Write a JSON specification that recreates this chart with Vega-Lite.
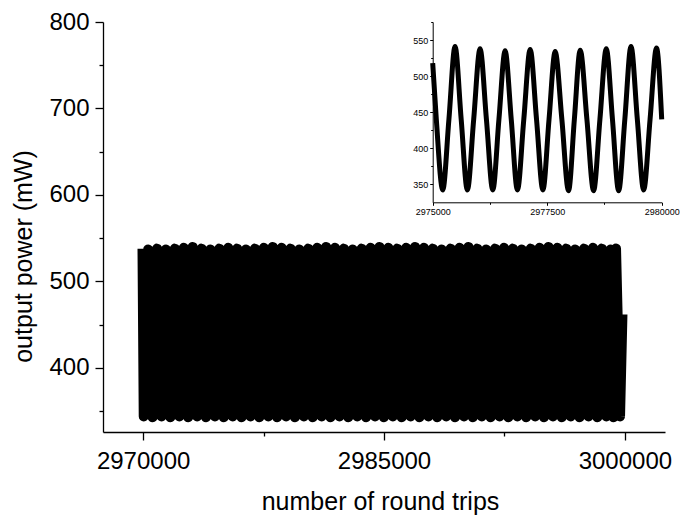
{
  "$schema": "https://vega.github.io/schema/vega-lite/v6.json",
  "width": 562,
  "height": 410,
  "autosize": "none",
  "padding": {"left": 103, "top": 22, "right": 16, "bottom": 86},
  "background": "white",
  "config": {
    "view": {"stroke": null},
    "font": "Liberation Sans",
    "axis": {"grid": false, "domainColor": "black", "tickColor": "black", "labelColor": "black", "titleColor": "black", "domainWidth": 1.3, "tickWidth": 1.3, "titleFontWeight": "normal", "labelFont": "Liberation Sans", "titleFont": "Liberation Sans"}
  },
  "datasets": {
    "main": [
      {"trips": 2969960, "power": 538}, {"trips": 2970037, "power": 344}, {"trips": 2970314, "power": 537}, {"trips": 2970591, "power": 343},
      {"trips": 2970868, "power": 538}, {"trips": 2971145, "power": 344}, {"trips": 2971422, "power": 537}, {"trips": 2971699, "power": 343},
      {"trips": 2971976, "power": 538}, {"trips": 2972253, "power": 344}, {"trips": 2972530, "power": 539}, {"trips": 2972807, "power": 343},
      {"trips": 2973084, "power": 540}, {"trips": 2973361, "power": 344}, {"trips": 2973638, "power": 538}, {"trips": 2973915, "power": 343},
      {"trips": 2974192, "power": 537}, {"trips": 2974469, "power": 344}, {"trips": 2974746, "power": 538}, {"trips": 2975023, "power": 343},
      {"trips": 2975300, "power": 539}, {"trips": 2975577, "power": 344}, {"trips": 2975854, "power": 538}, {"trips": 2976131, "power": 343},
      {"trips": 2976408, "power": 537}, {"trips": 2976685, "power": 344}, {"trips": 2976962, "power": 538}, {"trips": 2977239, "power": 343},
      {"trips": 2977516, "power": 539}, {"trips": 2977793, "power": 344}, {"trips": 2978070, "power": 540}, {"trips": 2978347, "power": 343},
      {"trips": 2978624, "power": 539}, {"trips": 2978901, "power": 344}, {"trips": 2979178, "power": 538}, {"trips": 2979455, "power": 343},
      {"trips": 2979732, "power": 537}, {"trips": 2980009, "power": 344}, {"trips": 2980286, "power": 538}, {"trips": 2980563, "power": 343},
      {"trips": 2980840, "power": 539}, {"trips": 2981117, "power": 344}, {"trips": 2981394, "power": 540}, {"trips": 2981671, "power": 343},
      {"trips": 2981948, "power": 539}, {"trips": 2982225, "power": 344}, {"trips": 2982502, "power": 538}, {"trips": 2982779, "power": 343},
      {"trips": 2983056, "power": 537}, {"trips": 2983333, "power": 344}, {"trips": 2983610, "power": 538}, {"trips": 2983887, "power": 343},
      {"trips": 2984164, "power": 539}, {"trips": 2984441, "power": 344}, {"trips": 2984718, "power": 540}, {"trips": 2984995, "power": 343},
      {"trips": 2985272, "power": 539}, {"trips": 2985549, "power": 344}, {"trips": 2985826, "power": 538}, {"trips": 2986103, "power": 343},
      {"trips": 2986380, "power": 539}, {"trips": 2986657, "power": 344}, {"trips": 2986934, "power": 540}, {"trips": 2987211, "power": 343},
      {"trips": 2987488, "power": 539}, {"trips": 2987765, "power": 344}, {"trips": 2988042, "power": 538}, {"trips": 2988319, "power": 343},
      {"trips": 2988596, "power": 537}, {"trips": 2988873, "power": 344}, {"trips": 2989150, "power": 538}, {"trips": 2989427, "power": 343},
      {"trips": 2989704, "power": 539}, {"trips": 2989981, "power": 344}, {"trips": 2990258, "power": 540}, {"trips": 2990535, "power": 343},
      {"trips": 2990812, "power": 538}, {"trips": 2991089, "power": 344}, {"trips": 2991366, "power": 537}, {"trips": 2991643, "power": 343},
      {"trips": 2991920, "power": 538}, {"trips": 2992197, "power": 344}, {"trips": 2992474, "power": 539}, {"trips": 2992751, "power": 343},
      {"trips": 2993028, "power": 538}, {"trips": 2993305, "power": 344}, {"trips": 2993582, "power": 537}, {"trips": 2993859, "power": 343},
      {"trips": 2994136, "power": 538}, {"trips": 2994413, "power": 344}, {"trips": 2994690, "power": 539}, {"trips": 2994967, "power": 343},
      {"trips": 2995244, "power": 540}, {"trips": 2995521, "power": 344}, {"trips": 2995798, "power": 539}, {"trips": 2996075, "power": 343},
      {"trips": 2996352, "power": 538}, {"trips": 2996629, "power": 344}, {"trips": 2996906, "power": 537}, {"trips": 2997183, "power": 343},
      {"trips": 2997460, "power": 538}, {"trips": 2997737, "power": 344}, {"trips": 2998014, "power": 539}, {"trips": 2998291, "power": 343},
      {"trips": 2998568, "power": 538}, {"trips": 2998845, "power": 344}, {"trips": 2999122, "power": 537}, {"trips": 2999300, "power": 343},
      {"trips": 2999450, "power": 538}, {"trips": 2999700, "power": 344}, {"trips": 2999850, "power": 462}
    ],
    "inset": [
      {"trips": 2975000, "power": 518}, {"trips": 2975079, "power": 440}, {"trips": 2975219, "power": 342},
      {"trips": 2975354, "power": 440}, {"trips": 2975488, "power": 541}, {"trips": 2975622, "power": 440},
      {"trips": 2975757, "power": 342}, {"trips": 2975895, "power": 440}, {"trips": 2976034, "power": 538},
      {"trips": 2976173, "power": 440}, {"trips": 2976312, "power": 342}, {"trips": 2976446, "power": 440},
      {"trips": 2976581, "power": 535}, {"trips": 2976715, "power": 440}, {"trips": 2976850, "power": 342},
      {"trips": 2976989, "power": 440}, {"trips": 2977128, "power": 537}, {"trips": 2977267, "power": 440},
      {"trips": 2977406, "power": 342}, {"trips": 2977540, "power": 440}, {"trips": 2977674, "power": 534},
      {"trips": 2977820, "power": 440}, {"trips": 2977966, "power": 341}, {"trips": 2978093, "power": 440},
      {"trips": 2978221, "power": 536}, {"trips": 2978367, "power": 440}, {"trips": 2978513, "power": 341},
      {"trips": 2978651, "power": 440}, {"trips": 2978790, "power": 538}, {"trips": 2978925, "power": 440},
      {"trips": 2979060, "power": 341}, {"trips": 2979195, "power": 440}, {"trips": 2979330, "power": 541},
      {"trips": 2979468, "power": 440}, {"trips": 2979606, "power": 342}, {"trips": 2979746, "power": 440},
      {"trips": 2979886, "power": 539}, {"trips": 2980000, "power": 440}
    ]
  },
  "layer": [
    {
      "data": {"name": "main"},
      "mark": {"type": "line", "color": "black", "strokeWidth": 10, "strokeJoin": "round", "clip": false},
      "encoding": {
        "x": {
          "field": "trips", "type": "quantitative",
          "scale": {"domain": [2967500, 3002500], "nice": false, "zero": false},
          "axis": {
            "orient": "bottom",
            "values": [2970000, 2977500, 2985000, 2992500, 3000000],
            "format": "d",
            "labelExpr": "datum.value % 15000 === 0 ? datum.label : ''",
            "tickSize": {"condition": {"test": "datum.value % 15000 === 0", "value": 8}, "value": 4},
            "labelFontSize": 24,
            "labelPadding": 9,
            "labelFlush": false,
            "labelOverlap": false,
            "title": "number of round trips",
            "titleFontSize": 25,
            "titleBaseline": "alphabetic",
            "titleX": 277,
            "titleY": 77
          }
        },
        "y": {
          "field": "power", "type": "quantitative",
          "scale": {"domain": [326, 800], "nice": false, "zero": false},
          "axis": {
            "orient": "left",
            "values": [350, 400, 450, 500, 550, 600, 650, 700, 750, 800],
            "labelExpr": "datum.value % 100 === 0 ? datum.label : ''",
            "tickSize": {"condition": {"test": "datum.value % 100 === 0", "value": 8}, "value": 4},
            "labelFontSize": 24,
            "labelPadding": 6,
            "labelFlush": false,
            "labelOverlap": false,
            "title": "output power (mW)",
            "titleFontSize": 25,
            "titleBaseline": "bottom",
            "titleX": -67,
            "titleY": 234
          }
        }
      }
    },
    {
      "data": {"name": "inset"},
      "mark": {"type": "line", "color": "black", "strokeWidth": 5, "interpolate": "monotone", "strokeJoin": "round", "clip": false},
      "encoding": {
        "x": {
          "field": "trips", "type": "quantitative",
          "scale": {"domain": [2975000, 2980000], "range": [329.7, 558.7], "nice": false, "zero": false},
          "axis": {
            "orient": "bottom",
            "offset": -229.7,
            "values": [2975000, 2976250, 2977500, 2978750, 2980000],
            "format": "d",
            "labelExpr": "datum.value % 2500 === 0 ? datum.label : ''",
            "tickSize": {"condition": {"test": "datum.value % 2500 === 0", "value": 3}, "value": 2},
            "tickWidth": 1,
            "domainWidth": 1,
            "labelFontSize": 9,
            "labelPadding": 2,
            "labelFlush": false,
            "labelOverlap": false,
            "title": null
          }
        },
        "y": {
          "field": "power", "type": "quantitative",
          "scale": {"domain": [325, 575], "range": [180.3, 0], "nice": false, "zero": false},
          "axis": {
            "orient": "left",
            "offset": -329.7,
            "values": [350, 375, 400, 425, 450, 475, 500, 525, 550, 575],
            "labelExpr": "datum.value % 50 === 0 ? datum.label : ''",
            "tickSize": {"condition": {"test": "datum.value % 50 === 0", "value": 3}, "value": 2},
            "tickWidth": 1,
            "domainWidth": 1,
            "labelFontSize": 9,
            "labelPadding": 2,
            "labelFlush": false,
            "labelOverlap": false,
            "title": null
          }
        }
      }
    }
  ],
  "resolve": {"scale": {"x": "independent", "y": "independent"}, "axis": {"x": "independent", "y": "independent"}}
}
